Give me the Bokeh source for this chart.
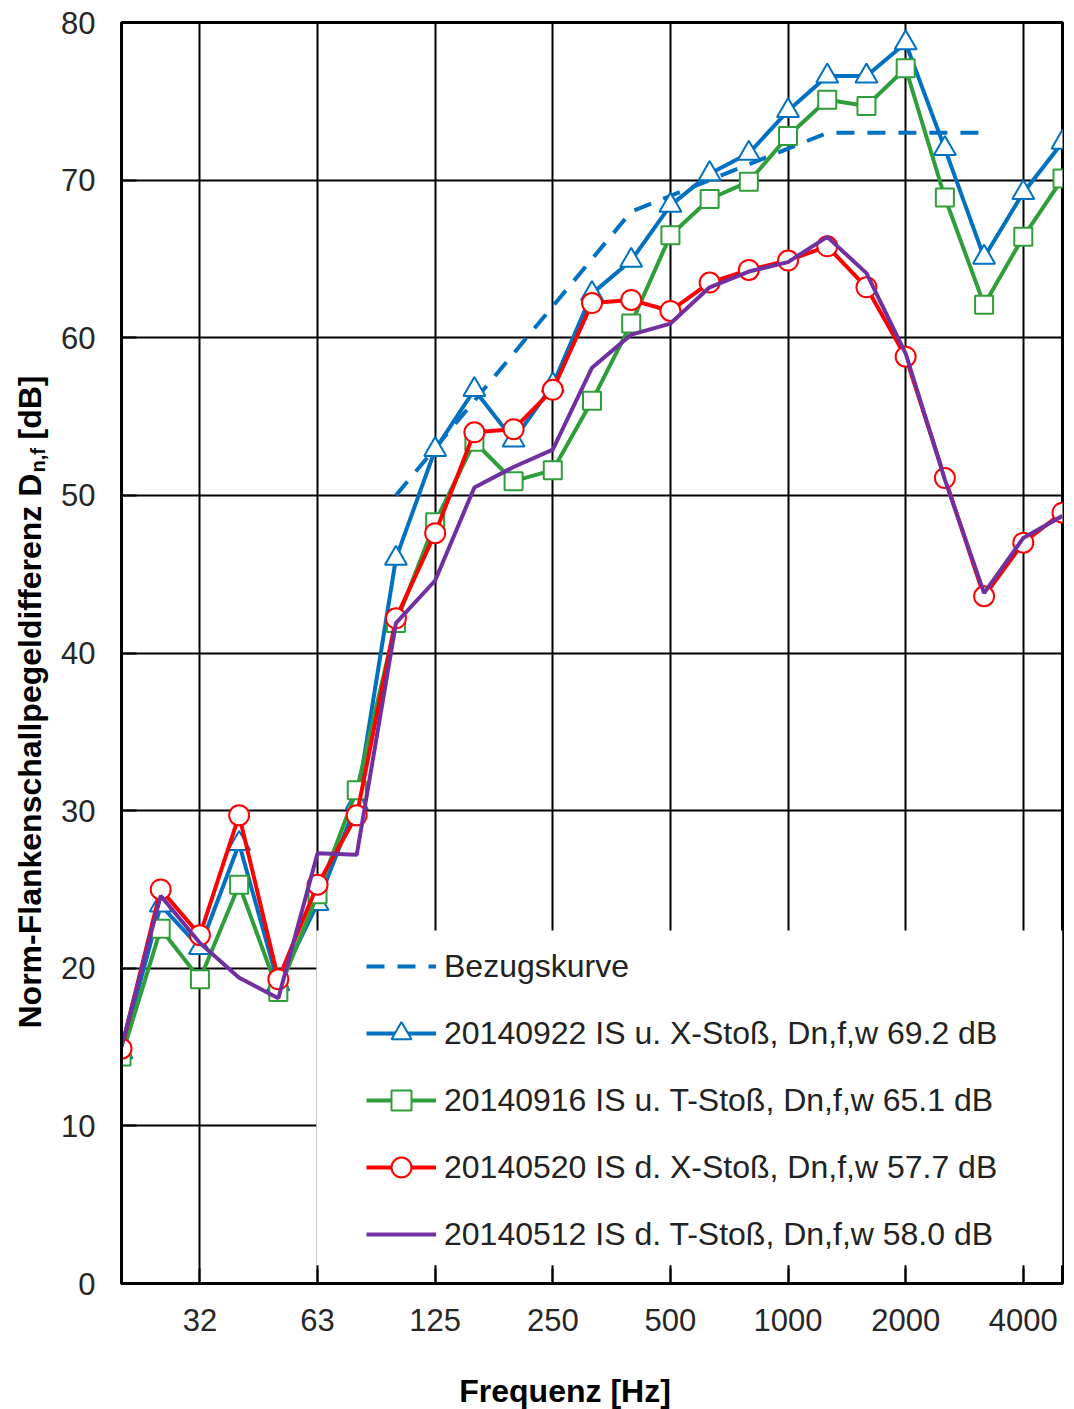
from math import pi
from bokeh.plotting import figure
from bokeh.layouts import row, column
from bokeh.models import (Range1d, FixedTicker, Legend, LegendItem, BoxAnnotation)
from bokeh.core.properties import value
from bokeh.embed import file_html
from bokeh.resources import INLINE

# third-octave bands (Hz)
bands = ["20", "25", "31.5", "40", "50", "63", "80", "100", "125", "160", "200", "250",
         "315", "400", "500", "630", "800", "1000", "1250", "1600", "2000", "2500",
         "3150", "4000", "5000"]
tick_bands = ["31.5", "63", "125", "250", "500", "1000", "2000", "4000"]
tick_labels = ["32", "63", "125", "250", "500", "1000", "2000", "4000"]

# reference curve (shifted), 100 .. 3150 Hz
ref_bands = ["100", "125", "160", "200", "250", "315", "400", "500", "630", "800",
             "1000", "1250", "1600", "2000", "2500", "3150"]
ref_values = [50, 53, 56, 59, 62, 65, 68, 69, 70, 71, 72, 73, 73, 73, 73, 73]

x_stoss_u = [14.7, 24.0, 21.3, 27.9, 19.0, 24.1, 30.5, 46.0, 52.9, 56.7, 53.5, 57.0,
             62.8, 64.9, 68.4, 70.4, 71.7, 74.4, 76.6, 76.6, 78.7, 72.0, 65.1, 69.2, 72.4]
t_stoss_u = [14.4, 22.5, 19.3, 25.3, 18.5, 24.7, 31.3, 41.9, 48.3, 53.4, 50.9, 51.6,
             56.0, 60.9, 66.5, 68.8, 69.9, 72.8, 75.1, 74.7, 77.1, 68.9, 62.1, 66.4, 70.1]
x_stoss_d = [14.9, 25.0, 22.1, 29.7, 19.3, 25.3, 29.7, 42.2, 47.6, 54.0, 54.2, 56.7,
             62.2, 62.4, 61.7, 63.5, 64.3, 64.9, 65.8, 63.2, 58.8, 51.1, 43.6, 47.0, 48.9]
t_stoss_d = [15.0, 24.6, 21.6, 19.4, 18.1, 27.3, 27.2, 41.9, 44.6, 50.5, 51.8, 52.9,
             58.1, 60.2, 60.9, 63.2, 64.2, 64.8, 66.4, 64.1, 59.0, 51.0, 43.8, 47.3, 48.7]

names = ["Bezugskurve",
         "20140922 IS u. X-Stoß, Dn,f,w 69.2 dB",
         "20140916 IS u. T-Stoß, Dn,f,w 65.1 dB",
         "20140520 IS d. X-Stoß, Dn,f,w 57.7 dB",
         "20140512 IS d. T-Stoß, Dn,f,w 58.0 dB"]
y_title = ["Norm-Flankenschallpegeldifferenz D", "n,f", "[dB]"]
x_title = "Frequenz [Hz]"

BLUE = "#0070C0"
GREEN = "#2F9E3A"
RED = "#FF0000"
PURPLE = "#7030A0"
FONT = "Liberation Sans"
W, H = 1074, 1409
YW = 58            # width of the y-title strip
XH = 50            # height of the x-title strip
TOP, BOTTOM = 22, 126
LEFT, RIGHT = 120, 12

xi = list(range(len(bands)))
ref_x = [bands.index(b) for b in ref_bands]
tick_x = [bands.index(b) for b in tick_bands]

p = figure(width=W - YW, height=H - XH, output_backend="svg", toolbar_location=None,
           x_range=Range1d(0, len(bands) - 1), y_range=Range1d(0, 80),
           min_border_left=LEFT - YW, min_border_right=RIGHT, min_border_top=TOP,
           min_border_bottom=BOTTOM - XH, background_fill_color="white",
           border_fill_color="white")
p.outline_line_color = "black"
p.outline_line_width = 3

xt = FixedTicker(ticks=tick_x)
yt = FixedTicker(ticks=list(range(0, 81, 10)))
p.xaxis.ticker = xt
p.yaxis.ticker = yt
p.xgrid.ticker = xt
p.ygrid.ticker = yt
p.xaxis.major_label_overrides = {t: l for t, l in zip(tick_x, tick_labels)}
for g in (p.xgrid, p.ygrid):
    g.grid_line_color = "black"
    g.grid_line_width = 2
for ax in (p.xaxis, p.yaxis):
    ax.axis_line_width = 3
    ax.axis_line_color = "black"
    ax.minor_tick_line_color = None
    ax.major_tick_out = 0
    ax.major_tick_in = 15
    ax.major_tick_line_width = 2
    ax.major_label_text_font = FONT
    ax.major_label_text_font_size = "31px"
    ax.major_label_text_color = "#262626"
p.yaxis.major_label_standoff = 26
p.xaxis.major_label_standoff = 25

# white area behind the legend
p.add_layout(BoxAnnotation(left=4.97, right=24, bottom=1.15, top=22.4, fill_color="white",
                           fill_alpha=1.0, line_alpha=0, level="underlay"))

r_ref = p.line(ref_x, ref_values, line_color=BLUE, line_width=4, line_dash="18 13")

items = [LegendItem(label=names[0], renderers=[r_ref])]
series = [(x_stoss_u, BLUE, "triangle", 22), (t_stoss_u, GREEN, "square", 18),
          (x_stoss_d, RED, "circle", 20), (t_stoss_d, PURPLE, None, 0)]
for k, (vals, col, mk, sz) in enumerate(series):
    rl = p.line(xi, vals, line_color=col, line_width=4)
    rs = [rl]
    if mk:
        rm = p.scatter(xi, vals, marker=mk, size=sz, fill_color="white",
                       line_color=col, line_width=2)
        rs.append(rm)
    items.append(LegendItem(label=names[k + 1], renderers=rs))

legend = Legend(items=items, location=(239, 18), padding=6, spacing=17,
                glyph_width=70, glyph_height=50, label_height=50, label_standoff=8,
                label_text_font=FONT, label_text_font_size="32px",
                label_text_color="#222222", background_fill_alpha=0,
                border_line_alpha=0, margin=0)
p.add_layout(legend)


def strip(width, height, xr, yr, **borders):
    f = figure(width=width, height=height, output_backend="svg", toolbar_location=None,
               x_range=Range1d(*xr), y_range=Range1d(*yr),
               x_axis_location=None, y_axis_location=None,
               background_fill_color="white", border_fill_color="white", **borders)
    f.outline_line_color = None
    f.grid.visible = False
    return f


# x title strip: data x == page x, data y == distance from page bottom
xf = strip(W - YW, XH, (LEFT, W - RIGHT), (0, XH), min_border_left=LEFT - YW,
           min_border_right=RIGHT, min_border_top=0, min_border_bottom=0)
xf.text(x=[564], y=[H - 1390], text=[x_title], text_align="center",
        text_baseline="middle", text_font=value(FONT), text_font_size="32px",
        text_font_style="bold", text_color="black")

# y title strip (text with subscript); data y == distance from page bottom
yf = strip(YW, H, (0, YW), (BOTTOM, H - TOP), min_border_left=0, min_border_right=0,
           min_border_top=TOP, min_border_bottom=BOTTOM)
y0 = H - 1028
yf.text(x=[29, 29], y=[y0, y0 + 589], text=[y_title[0], y_title[2]],
        angle=pi / 2, text_align="left", text_baseline="middle",
        text_font=value(FONT), text_font_size="32px", text_font_style="bold",
        text_color="black")
yf.text(x=[37], y=[y0 + 556], text=[y_title[1]],
        angle=pi / 2, text_align="left", text_baseline="middle",
        text_font=value(FONT), text_font_size="20px", text_font_style="bold",
        text_color="black")

layout = row(yf, column(p, xf, spacing=0), spacing=0)
open("out.html", "w").write(file_html(layout, INLINE))
